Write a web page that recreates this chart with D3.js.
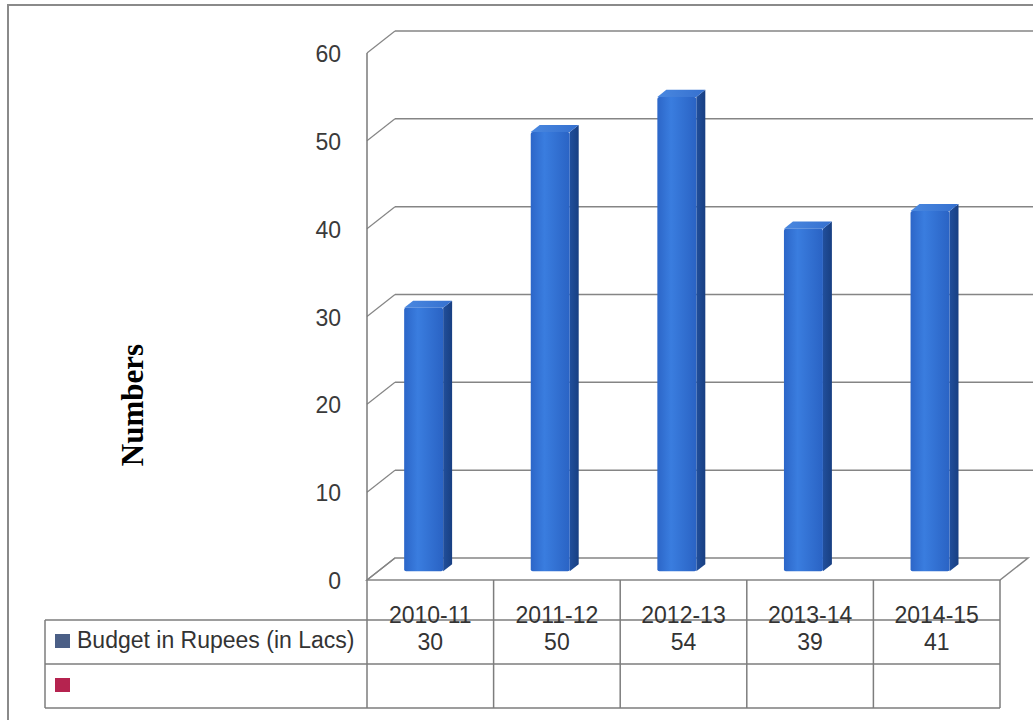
<!DOCTYPE html>
<html>
<head>
<meta charset="utf-8">
<script src="https://cdn.jsdelivr.net/npm/d3@7"></script>
<style>
  body { margin: 0; background: #fff; }
  svg { display: block; }
</style>
</head>
<body>
<svg id="chart" width="1033" height="720"></svg>
<script>
// data
const categories = ["2010-11", "2011-12", "2012-13", "2013-14", "2014-15"];
const budget = [30, 50, 54, 39, 41];
const yTicks = [0, 10, 20, 30, 40, 50, 60];
const seriesNames = ["Budget in Rupees (in Lacs)", ""];
const seriesColors = ["#4b5f86", "#b5234f"];

const svg = d3.select("#chart");
const defs = svg.append("defs");

// 3d depth of the plot box
const depth = {dx: 28, dy: -22};
const barFront = 0.4, barBack = 0.72;

var scale = {
    x: d3.scaleBand().domain(categories).range([367, 1000]),
    y: d3.scaleLinear().domain([0, 60]).range([580, 53])
};
const bw = scale.x.bandwidth();
const off = (t) => [t * depth.dx, t * depth.dy];

// outer frame
svg.append("rect")
    .attr("x", 8).attr("y", 5)
    .attr("width", 1060).attr("height", 740)
    .attr("fill", "none").attr("stroke", "#8a8a8a").attr("stroke-width", 2);

// gradients for the columns
function gradient(id, stops) {
    const g = defs.append("linearGradient").attr("id", id)
        .attr("x1", "0%").attr("x2", "100%").attr("y1", "0%").attr("y2", "0%");
    stops.forEach(([o, c]) => g.append("stop").attr("offset", o).attr("stop-color", c));
}
gradient("front", [["0%", "#2c66c8"], ["35%", "#3a7ddf"], ["100%", "#2a63c4"]]);
gradient("side", [["0%", "#214f9c"], ["100%", "#183f82"]]);
gradient("top", [["0%", "#4a88e0"], ["100%", "#3570cf"]]);

const x0 = scale.x.range()[0], x1 = scale.x.range()[1];
const [bx, by] = off(1);
const gridColor = "#858585";

// back wall gridlines + left wall diagonals
const grid = svg.append("g");
yTicks.forEach((v) => {
    const yf = scale.y(v);
    if (v > 0) {
        grid.append("line")
            .attr("x1", x0 + bx).attr("y1", yf + by)
            .attr("x2", 1040).attr("y2", yf + by)
            .attr("stroke", gridColor).attr("stroke-width", 1.5);
    }
    grid.append("line")
        .attr("x1", x0).attr("y1", yf)
        .attr("x2", x0 + bx).attr("y2", yf + by)
        .attr("stroke", gridColor).attr("stroke-width", 1.2);
});

// floor
const y0 = scale.y(0);
svg.append("path")
    .attr("d", `M${x0},${y0}L${x0 + bx},${y0 + by}L${x1 + bx},${y0 + by}L${x1},${y0}Z`)
    .attr("fill", "none").attr("stroke", gridColor).attr("stroke-width", 1.5);

// front vertical axis
svg.append("line")
    .attr("x1", x0).attr("y1", scale.y(60)).attr("x2", x0).attr("y2", y0)
    .attr("stroke", "#7a7a7a").attr("stroke-width", 1.5);

// tick labels
svg.append("g").selectAll("text").data(yTicks).join("text")
    .attr("x", 341).attr("y", (d) => scale.y(d) + 1)
    .attr("text-anchor", "end").attr("dominant-baseline", "central")
    .attr("font-family", "Liberation Sans, Arial, sans-serif")
    .attr("font-size", 23).attr("fill", "#3a3a3a")
    .text((d) => d);

// axis title
svg.append("text")
    .attr("transform", "translate(143,405) rotate(-90)")
    .attr("text-anchor", "middle")
    .attr("font-family", "Liberation Serif, Times New Roman, serif")
    .attr("font-weight", "bold").attr("font-size", 31).attr("fill", "#000")
    .text("Numbers");

// columns
const bars = svg.append("g").selectAll("g").data(categories).join("g");
bars.each(function(c, i) {
    const g = d3.select(this);
    const [fx, fy] = off(barFront);
    const [kx, ky] = off(barBack);
    const left = scale.x(c) + bw * 0.205 + fx;
    const right = left + bw * 0.308;
    const top = scale.y(budget[i]) + fy;
    const bottom = y0 + fy;
    const sx = kx - fx, sy = ky - fy;
    // side
    g.append("path")
        .attr("d", `M${right},${top}L${right + sx},${top + sy}L${right + sx},${bottom + sy}L${right},${bottom}Z`)
        .attr("fill", "url(#side)");
    // top
    g.append("path")
        .attr("d", `M${left},${top}L${left + sx},${top + sy}L${right + sx},${top + sy}L${right},${top}Z`)
        .attr("fill", "url(#top)");
    // front
    g.append("rect")
        .attr("x", left).attr("y", top)
        .attr("width", right - left).attr("height", bottom - top)
        .attr("rx", 2)
        .attr("fill", "url(#front)");
});

// data table
const tableTop = y0, rowA = 620, rowB = 664, rowC = 708, tableLeft = 45;
const table = svg.append("g").attr("stroke", "#7d7d7d").attr("stroke-width", 1.5);
[rowA, rowB, rowC].forEach((y) => {
    table.append("line").attr("x1", tableLeft).attr("x2", x1).attr("y1", y).attr("y2", y);
});
table.append("line").attr("x1", tableLeft).attr("x2", tableLeft).attr("y1", rowA).attr("y2", rowC);
categories.concat(["end"]).forEach((c, i) => {
    const x = i < categories.length ? scale.x(c) : x1;
    table.append("line").attr("x1", x).attr("x2", x).attr("y1", tableTop).attr("y2", rowC);
});

const textStyle = (sel) => sel
    .attr("font-family", "Liberation Sans, Arial, sans-serif")
    .attr("fill", "#333");

svg.append("g").selectAll("text").data(categories).join("text")
    .attr("x", (d) => scale.x(d) + bw / 2).attr("y", 623)
    .attr("text-anchor", "middle").attr("font-size", 23)
    .call(textStyle)
    .text((d) => d);

svg.append("g").selectAll("text").data(budget).join("text")
    .attr("x", (d, i) => scale.x(categories[i]) + bw / 2).attr("y", 650)
    .attr("text-anchor", "middle").attr("font-size", 23)
    .call(textStyle)
    .text((d) => d);

// legend keys
seriesNames.forEach((name, i) => {
    const y = i === 0 ? 634 : 678;
    svg.append("rect")
        .attr("x", 55).attr("y", y).attr("width", 15).attr("height", 14)
        .attr("fill", seriesColors[i]);
    if (name) {
        svg.append("text")
            .attr("x", 77).attr("y", 648)
            .attr("font-size", 23)
            .call(textStyle)
            .text(name);
    }
});
</script>
</body>
</html>
